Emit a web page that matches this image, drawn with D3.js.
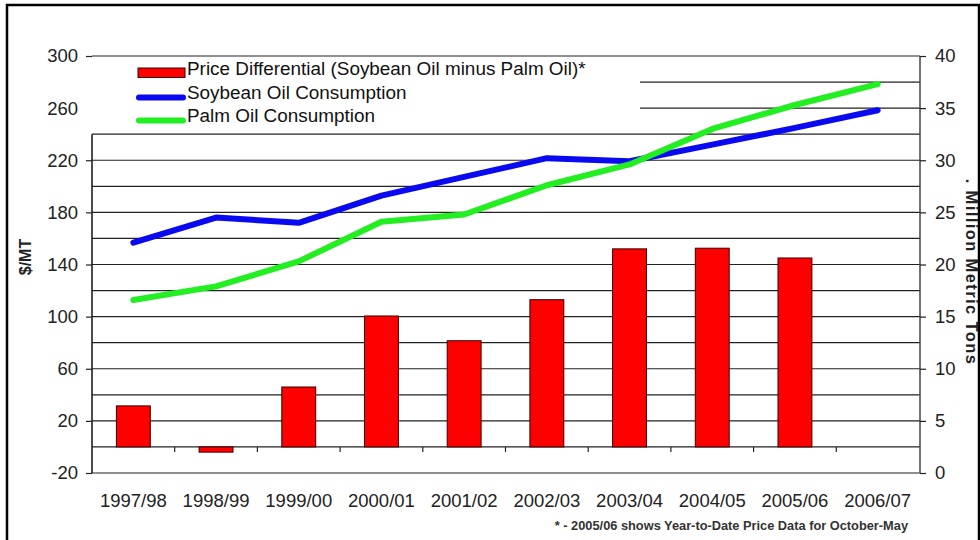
<!DOCTYPE html>
<html>
<head>
<meta charset="utf-8">
<script src="https://cdn.jsdelivr.net/npm/d3@7"></script>
<style>
  html, body { margin: 0; padding: 0; background: #fff; }
  svg { display: block; font-family: Arial, "Liberation Sans", sans-serif; }
</style>
</head>
<body>
<svg id="chart" width="980" height="540"></svg>
<script>
// Marketing years on the category axis
const categories = ["1997/98", "1998/99", "1999/00", "2000/01", "2001/02",
                    "2002/03", "2003/04", "2004/05", "2005/06", "2006/07"];

// Soybean oil price minus palm oil price, $/MT (no value for 2006/07)
const priceDifferential = [31.5, -4, 46, 100.5, 81.5, 113, 152, 152.5, 145, null];

// Consumption, million metric tons
const soybeanConsumption = [22.1, 24.5, 24.0, 26.6, 28.4, 30.2, 29.9, 31.5, 33.1, 34.8];
const palmConsumption    = [16.6, 17.9, 20.3, 24.1, 24.8, 27.6, 29.6, 33.0, 35.3, 37.3];

// Axis tick labels
const leftTicks  = [-20, 20, 60, 100, 140, 180, 220, 260, 300];
const rightTicks = [0, 5, 10, 15, 20, 25, 30, 35, 40];

const legendItems = [
  { label: "Price Differential (Soybean Oil minus Palm Oil)*", type: "bar", color: "#ff0000" },
  { label: "Soybean Oil Consumption", type: "line", color: "#0a0af0" },
  { label: "Palm Oil Consumption", type: "line", color: "#22ee22" }
];

const svg = d3.select("#chart");
const plot = { left: 92, right: 919, top: 56, bottom: 473 };

const x = d3.scaleBand().domain(categories).range([plot.left, plot.right]).padding(0);
const yL = d3.scaleLinear().domain([-20, 300]).range([plot.bottom, plot.top]);
const yR = d3.scaleLinear().domain([0, 40]).range([plot.bottom, plot.top]);

// Outer frame
svg.append("rect")
  .attr("x", 7).attr("y", 5).attr("width", 972).attr("height", 560)
  .attr("fill", "none").attr("stroke", "#000").attr("stroke-width", 2.5);

// Horizontal gridlines every 20 $/MT
const grid = svg.append("g");
grid.selectAll("line").data(d3.range(-20, 301, 20)).join("line")
  .attr("x1", plot.left).attr("x2", plot.right + 1)
  .attr("y1", d => yL(d)).attr("y2", d => yL(d))
  .attr("stroke", "#222").attr("stroke-width", 1.2);

// Price differential bars
const bw = x.bandwidth() * 0.41;
svg.append("g").selectAll("rect")
  .data(categories.map((c, i) => ({ c, v: priceDifferential[i] })).filter(d => d.v !== null))
  .join("rect")
  .attr("x", d => x(d.c) + (x.bandwidth() - bw) / 2)
  .attr("width", bw)
  .attr("y", d => yL(Math.max(0, d.v)))
  .attr("height", d => Math.abs(yL(d.v) - yL(0)))
  .attr("fill", "#ff0000")
  .attr("stroke", "#3a0000").attr("stroke-width", 1);

// Category tick marks along the zero line
svg.append("g").selectAll("line").data(categories.slice(1)).join("line")
  .attr("x1", d => x(d)).attr("x2", d => x(d))
  .attr("y1", yL(0)).attr("y2", yL(0) + 5)
  .attr("stroke", "#222").attr("stroke-width", 1.2);

// Consumption lines
const line = (vals) => d3.line()
  .x((d, i) => x(categories[i]) + x.bandwidth() / 2)
  .y(d => yR(d))(vals);

svg.append("path").attr("d", line(soybeanConsumption))
  .attr("fill", "none").attr("stroke", legendItems[1].color)
  .attr("stroke-width", 6).attr("stroke-linejoin", "round").attr("stroke-linecap", "round");
svg.append("path").attr("d", line(palmConsumption))
  .attr("fill", "none").attr("stroke", legendItems[2].color)
  .attr("stroke-width", 6).attr("stroke-linejoin", "round").attr("stroke-linecap", "round");

// Legend on a white panel in the upper left
svg.append("rect").attr("x", 84).attr("y", 58).attr("width", 556).attr("height", 75).attr("fill", "#fff");
const legendBase = [75, 99, 122];
const leg = svg.append("g");
legendItems.forEach((item, i) => {
  if (item.type === "bar") {
    leg.append("rect").attr("x", 138).attr("y", legendBase[i] - 7).attr("width", 47).attr("height", 9.5)
      .attr("fill", item.color).attr("stroke", "#3a0000").attr("stroke-width", 1);
  } else {
    leg.append("line").attr("x1", 139).attr("x2", 183)
      .attr("y1", legendBase[i] - 1.5).attr("y2", legendBase[i] - 1.5)
      .attr("stroke", item.color).attr("stroke-width", 6).attr("stroke-linecap", "round");
  }
  leg.append("text").attr("x", 187).attr("y", legendBase[i])
    .attr("font-size", 18.9).attr("fill", "#111").text(item.label);
});

// Plain hyphen for negative tick values
const fmt = d => String(d);

// Left axis
const leftAxis = svg.append("g").attr("transform", `translate(${plot.left},0)`)
  .call(d3.axisLeft(yL).tickValues(leftTicks).tickSize(6).tickPadding(8).tickFormat(fmt));
leftAxis.select(".domain").attr("d", `M0,${yL(240)}V${plot.bottom}`).attr("stroke", "#111").attr("stroke-width", 1.5);
leftAxis.selectAll(".tick line").attr("stroke", "#222").attr("stroke-width", 1.2);
leftAxis.selectAll(".tick text").attr("font-size", 18.5).attr("fill", "#222")
  .attr("font-family", "Arial, 'Liberation Sans', sans-serif");
leftAxis.selectAll(".tick").filter(d => d === 260).select("line").remove();

// Right axis
const rightAxis = svg.append("g").attr("transform", `translate(${plot.right + 1},0)`)
  .call(d3.axisRight(yR).tickValues(rightTicks).tickSize(6).tickPadding(9).tickFormat(fmt));
rightAxis.select(".domain").attr("d", `M0,${plot.top}V${plot.bottom}`).attr("stroke", "#444").attr("stroke-width", 1.5);
rightAxis.selectAll(".tick line").attr("stroke", "#222").attr("stroke-width", 1.2);
rightAxis.selectAll(".tick text").attr("font-size", 18.5).attr("fill", "#222")
  .attr("font-family", "Arial, 'Liberation Sans', sans-serif");

// Category labels
svg.append("g").selectAll("text").data(categories).join("text")
  .attr("x", d => x(d) + x.bandwidth() / 2).attr("y", 507)
  .attr("text-anchor", "middle").attr("font-size", 18.5).attr("fill", "#222")
  .text(d => d);

// Axis titles
svg.append("text").attr("transform", "translate(31,257) rotate(-90)")
  .attr("text-anchor", "middle").attr("font-size", 16).attr("font-weight", "bold").attr("fill", "#222")
  .text("$/MT");
svg.append("text").attr("transform", "translate(966,272) rotate(90)")
  .attr("text-anchor", "middle").attr("font-size", 16.5).attr("font-weight", "bold").attr("fill", "#222")
  .attr("letter-spacing", 1.4)
  .text(". Million Metric Tons");

// Footnote
svg.append("text").attr("x", 908).attr("y", 530).attr("text-anchor", "end")
  .attr("font-size", 12.8).attr("font-weight", "bold").attr("fill", "#333")
  .text("* - 2005/06 shows Year-to-Date Price Data for October-May");
</script>
</body>
</html>
